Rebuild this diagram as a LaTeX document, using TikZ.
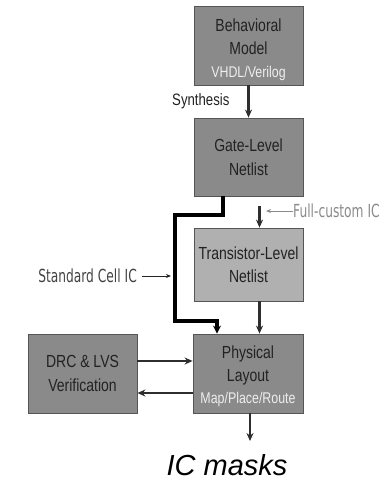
\documentclass[tikz,border=0pt]{standalone}
\usepackage{fontspec}
\setmainfont{Liberation Sans}[FakeStretch=0.8]
\newfontfamily\notefont{DejaVu Sans}[FakeStretch=0.68]
\usetikzlibrary{arrows.meta,calc}

\definecolor{boxdark}{HTML}{8A8A8A}
\definecolor{boxlight}{HTML}{B0B0B0}
\definecolor{boxedge}{HTML}{555555}
\definecolor{boxtext}{HTML}{222222}
\definecolor{subtext}{HTML}{EEEEEE}
\definecolor{linecol}{HTML}{2E2E2E}
\definecolor{notegray}{HTML}{8A8A8A}

% stacked lines with zero size, shifted by #1 from the box centre
\newcommand{\lowstack}[2]{\raisebox{#1}[0pt][0pt]{\begin{tabular}{@{}c@{}}#2\end{tabular}}}

\tikzset{
  stage/.style={draw=boxedge, line width=0.8pt, fill=boxdark, text=boxtext,
    minimum width=109pt, inner sep=0pt, align=center,
    font=\fontsize{17.5}{23.5}\selectfont},
  flow/.style={draw=linecol, line width=2.3pt, -{Stealth[length=8pt,width=7pt]}},
  cellpath/.style={draw=black, line width=3.2pt, line join=miter,
    -{Stealth[length=8pt,width=8pt]}},
  notearrow/.style={line width=1pt, -{Stealth[length=5pt,width=4pt]}}
}

\begin{document}
\begin{tikzpicture}[x=1pt,y=-1pt]
\useasboundingbox (0,0) rectangle (385,482);

% design stages
\node[stage, minimum height=79pt] (beh) at (248.5,45.5)
  {\lowstack{-8.5pt}{Behavioral\\Model\\[-1pt]{\fontsize{15.5}{18}\selectfont\color{subtext}VHDL/Verilog}}};
\node[stage, minimum height=78pt] (gate) at (248.5,157) {Gate-Level\\Netlist};
\node[stage, fill=boxlight, minimum height=73pt] (trans) at (248.5,264.5)
  {Transistor-Level\\Netlist};
\node[stage, minimum height=79pt, minimum width=110pt] (phys) at (248,373.5)
  {\lowstack{-7pt}{Physical\\Layout\\[-2pt]{\fontsize{15.5}{18}\selectfont\color{subtext}Map/Place/Route}}};
\node[stage, minimum height=79pt] (drc) at (82.5,373.5) {DRC \& LVS\\Verification};

% synthesis step
\draw[flow] (beh.south) -- (gate.north);
\node[anchor=east, text=boxtext, font=\fontsize{16.5}{18}\selectfont] (syn) at (233,101) {Synthesis};

% standard cell route (bypasses the transistor level)
\coordinate (bendA) at (175,215);
\coordinate (bendB) at (175,321);
\draw[cellpath] ([xshift=-25.5pt]gate.south) |- (bendA) -- (bendB) -| ([xshift=-31pt]phys.north);

% full-custom route
\coordinate (fcTop) at (259.5,206);
\draw[flow] (fcTop) -- (fcTop |- trans.north);
\node[anchor=west, text=notegray, font=\notefont\fontsize{18}{20}\selectfont, inner sep=0pt]
  (fc) at (293,211) {Full-custom IC};
\coordinate (fcTip) at (266,211);
\draw[notearrow, draw=notegray, -{Stealth[length=5pt,width=4pt,fill=notegray]}] (fc.west) -- (fcTip);

\draw[flow] ([xshift=11pt]trans.south) -- ([xshift=11.5pt]phys.north);

% standard cell note
\node[anchor=east, text=boxtext!85, font=\notefont\fontsize{18}{20}\selectfont, inner sep=0pt]
  (sc) at (137,276) {Standard Cell IC};
\coordinate (scTip) at (171,276);
\draw[notearrow, draw=boxtext] ([xshift=5pt]sc.east) -- (scTip);

% verification loop
\draw[flow] ([yshift=12.5pt]drc.east) -- ([yshift=12.5pt]phys.west);
\draw[flow] ([yshift=-19.5pt]phys.west) -- ([yshift=-19.5pt]drc.east);

% output
\coordinate (maskTip) at (250,441);
\draw[flow] ([xshift=2pt]phys.south) -- (maskTip);
\node[font=\fontspec{Liberation Sans}\itshape\fontsize{29}{32}\selectfont, text=black]
  (masks) at (227,465) {IC masks};
\end{tikzpicture}
\end{document}
